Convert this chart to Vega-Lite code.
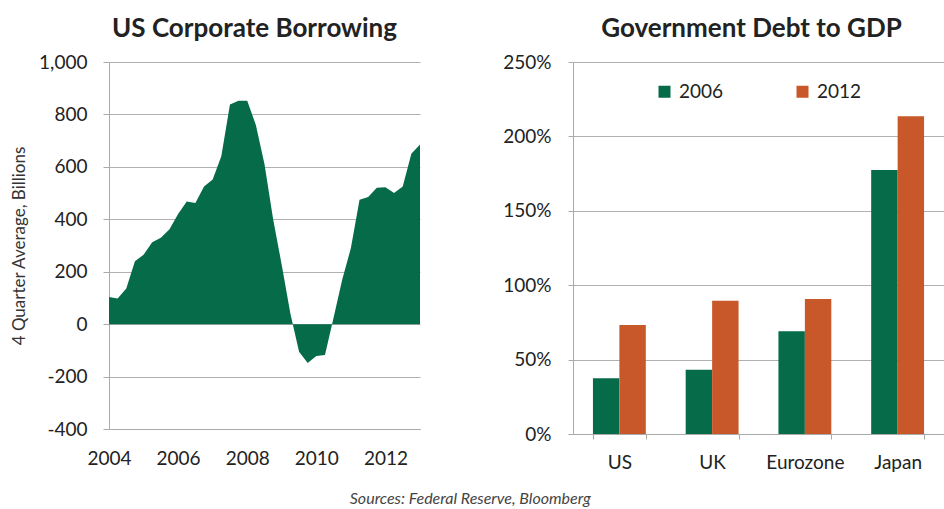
{
  "$schema": "https://vega.github.io/schema/vega-lite/v6.json",
  "padding": {"left": 10, "top": 16, "right": 0, "bottom": 0},
  "background": "white",
  "config": {
    "font": "Lato",
    "view": {"stroke": null},
    "axis": {"labelFont": "Lato", "labelColor": "#222", "titleFont": "Lato"},
    "title": {"font": "Lato"}
  },
  "title": {"text": "Sources: Federal Reserve, Bloomberg", "orient": "bottom", "anchor": "middle", "fontSize": 16, "fontStyle": "italic", "fontWeight": "normal", "color": "#444", "offset": 19, "dx": -7},
  "spacing": 82,
  "resolve": {"legend": {"color": "independent"}},
  "hconcat": [
    {
      "width": 311,
      "height": 367,
      "title": {"text": "US Corporate Borrowing", "fontSize": 26, "fontWeight": "bold", "color": "#222", "anchor": "middle", "dx": -10, "offset": 11},
      "data": {"values": [
        {"t": 2004.0, "v": 104}, {"t": 2004.25, "v": 98}, {"t": 2004.5, "v": 136}, {"t": 2004.75, "v": 240},
        {"t": 2005.0, "v": 265}, {"t": 2005.25, "v": 312}, {"t": 2005.5, "v": 330}, {"t": 2005.75, "v": 362},
        {"t": 2006.0, "v": 420}, {"t": 2006.25, "v": 468}, {"t": 2006.5, "v": 462}, {"t": 2006.75, "v": 525},
        {"t": 2007.0, "v": 552}, {"t": 2007.25, "v": 640}, {"t": 2007.5, "v": 838}, {"t": 2007.75, "v": 852},
        {"t": 2008.0, "v": 852}, {"t": 2008.25, "v": 760}, {"t": 2008.5, "v": 610}, {"t": 2008.75, "v": 400},
        {"t": 2009.0, "v": 225}, {"t": 2009.25, "v": 40}, {"t": 2009.5, "v": -105}, {"t": 2009.75, "v": -148},
        {"t": 2010.0, "v": -122}, {"t": 2010.25, "v": -118}, {"t": 2010.5, "v": 25}, {"t": 2010.75, "v": 170},
        {"t": 2011.0, "v": 290}, {"t": 2011.25, "v": 475}, {"t": 2011.5, "v": 485}, {"t": 2011.75, "v": 520},
        {"t": 2012.0, "v": 522}, {"t": 2012.25, "v": 500}, {"t": 2012.5, "v": 525}, {"t": 2012.75, "v": 650},
        {"t": 2013.0, "v": 685}
      ]},
      "mark": {"type": "area", "color": "#066b48", "interpolate": "linear"},
      "encoding": {
        "x": {"field": "t", "type": "quantitative",
          "scale": {"domain": [2004, 2013], "nice": false, "zero": false},
          "axis": {"values": [2004, 2006, 2008, 2010, 2012], "format": "d", "grid": false, "ticks": false, "tickSize": 0, "domainColor": "#aaa", "labelFontSize": 19, "labelPadding": 20, "title": null, "labelFlush": false}},
        "y": {"field": "v", "type": "quantitative", "stack": null,
          "scale": {"domain": [-400, 1000], "nice": false},
          "axis": {"values": [-400, -200, 0, 200, 400, 600, 800, 1000], "labelExpr": "replace(format(datum.value, ',d'), '\u2212', '-')", "grid": true, "gridColor": "#b0b0b0", "domainColor": "#aaa", "tickColor": "#aaa", "tickSize": 6, "labelFontSize": 19, "labelPadding": 16, "title": "4 Quarter Average, Billions", "titleFontSize": 17, "titleFontWeight": "normal", "titleColor": "#333", "titlePadding": 10}}
      }
    },
    {
      "width": 371,
      "height": 372,
      "title": {"text": "Government Debt to GDP", "fontSize": 26, "fontWeight": "bold", "color": "#222", "anchor": "middle", "dx": -7, "offset": 11},
      "data": {"values": [
        {"region": "US", "year": "2006", "pct": 37.4}, {"region": "US", "year": "2012", "pct": 73.3},
        {"region": "UK", "year": "2006", "pct": 43.2}, {"region": "UK", "year": "2012", "pct": 89.6},
        {"region": "Eurozone", "year": "2006", "pct": 69.0}, {"region": "Eurozone", "year": "2012", "pct": 90.7},
        {"region": "Japan", "year": "2006", "pct": 177.4}, {"region": "Japan", "year": "2012", "pct": 213.5}
      ]},
      "mark": {"type": "bar"},
      "encoding": {
        "x": {"field": "region", "type": "nominal", "sort": ["US", "UK", "Eurozone", "Japan"],
          "scale": {"paddingInner": 0.43, "paddingOuter": 0.215},
          "axis": {"tickBand": "extent", "labelAngle": 0, "domainColor": "#aaa", "tickColor": "#aaa", "tickSize": 5, "labelFontSize": 19, "labelPadding": 14, "title": null}},
        "xOffset": {"field": "year", "type": "nominal"},
        "y": {"field": "pct", "type": "quantitative",
          "scale": {"domain": [0, 250], "nice": false},
          "axis": {"values": [0, 50, 100, 150, 200, 250], "labelExpr": "datum.value + '%'", "grid": true, "gridColor": "#b0b0b0", "domainColor": "#aaa", "tickColor": "#aaa", "tickSize": 5, "labelFontSize": 19, "labelPadding": 17, "title": null}},
        "color": {"field": "year", "type": "nominal",
          "scale": {"domain": ["2006", "2012"], "range": ["#066b48", "#c8582a"]},
          "legend": {"orient": "none", "legendX": 82, "legendY": 20, "direction": "horizontal", "title": null, "symbolType": "square", "symbolSize": 144, "symbolStrokeWidth": 0, "labelFontSize": 19, "labelColor": "#222", "labelOffset": 5, "columnPadding": 69, "padding": 0}}
      }
    }
  ]
}
